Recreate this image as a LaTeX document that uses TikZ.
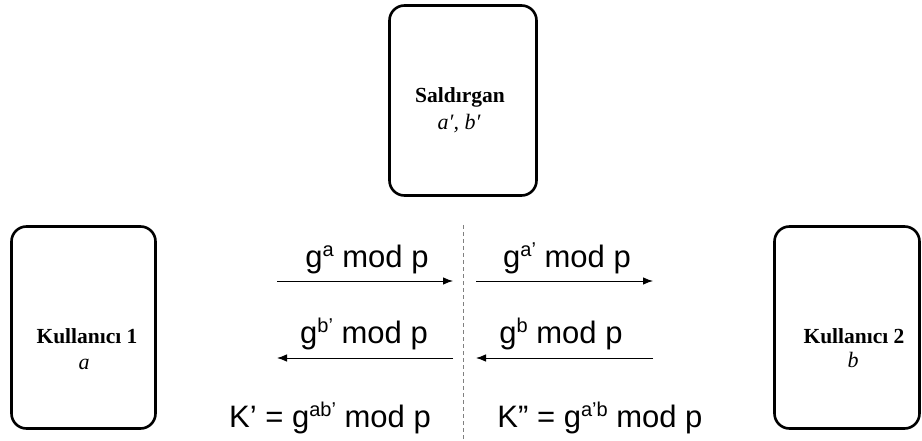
\documentclass[tikz,border=0pt]{standalone}
\usepackage{fontspec}
\setmainfont{Liberation Serif}
\newfontfamily\arial{Liberation Sans}
\usetikzlibrary{arrows.meta, positioning}

% small raised exponent in the message font
\newcommand{\expo}[1]{\raisebox{0.33em}{\fontsize{20}{20}\selectfont #1}}

\begin{document}
\begin{tikzpicture}[
        x=1pt, y=-1pt,
        party/.style={rectangle, draw, line width=2.6pt, rounded corners=15pt,
                      minimum width=145pt, minimum height=202pt},
        who/.style={font=\bfseries\fontsize{21.5}{24}\selectfont, inner sep=0pt, anchor=base},
        secret/.style={font=\itshape\fontsize{22}{24}\selectfont, inner sep=0pt, anchor=base},
        msg/.style={font=\arial\fontsize{31}{34}\selectfont, inner sep=0pt, anchor=base},
        arrow/.style={-{Latex[length=10pt, width=7.5pt]}, line width=0.9pt},
        split/.style={draw=gray, line width=1.6pt, dash pattern=on 4pt off 3pt}
      ]
      \useasboundingbox (0,0) rectangle (922,441);

      % Parties
      \node (attacker) [party, minimum width=147pt, minimum height=190pt] at (463,100.5) {};
      \node (user1) [party, minimum width=144pt] at (83.5,327.5) {};
      \node (user2) [party] at (847,327.5) {};

      % Names and secret exponents
      \node (attacker name) [who] at (460,103) {Saldırgan};
      \node (attacker key) [secret] at (459,130) {a′, b′};
      \node (user1 name) [who] at (87,343) {Kullanıcı 1};
      \node (user1 key) [secret] at (84,369) {a};
      \node (user2 name) [who] at (854,343) {Kullanıcı 2};
      \node (user2 key) [secret] at (853,367) {b};

      % Split line between the two sides
      \coordinate (split top) at (463.5,225);
      \coordinate (split bot) at (463.5,441);
      \draw [split] (split top) -- (split bot);

      % Arrow end points
      \coordinate (l1) at (277,281);
      \coordinate (m1) at (453,281);
      \coordinate (n1) at (476,281);
      \coordinate (r1) at (653,281);
      \coordinate (l2) at (277,358);
      \coordinate (m2) at (453,358);
      \coordinate (n2) at (476,358);
      \coordinate (r2) at (653,358);

      \draw [arrow] (l1) -- (m1);
      \draw [arrow] (n1) -- (r1);
      \draw [arrow] (m2) -- (l2);
      \draw [arrow] (r2) -- (n2);

      % Messages
      \node (ga)   [msg] at (367,267) {g\expo{a} mod p};
      \node (gat)  [msg] at (567,267) {g\expo{a’} mod p};
      \node (gbt)  [msg] at (364,343) {g\expo{b’} mod p};
      \node (gb)   [msg] at (561,343) {g\expo{b} mod p};

      % Keys
      \node (key1) [msg] at (330,427) {K’ = g\expo{ab’} mod p};
      \node (key2) [msg] at (600,427) {K” = g\expo{a’b} mod p};

    \end{tikzpicture}
\end{document}
